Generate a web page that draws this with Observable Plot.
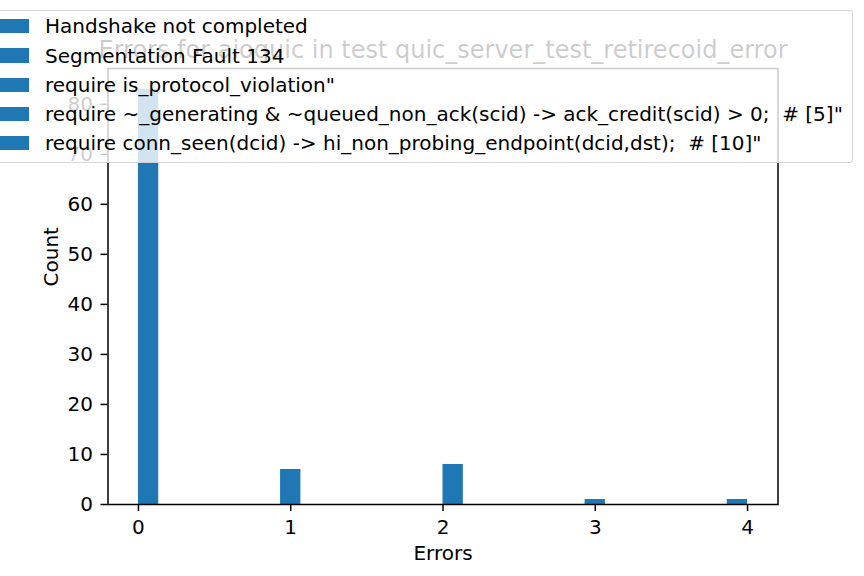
<!DOCTYPE html>
<html>
<head>
<meta charset="utf-8">
<script src="https://cdn.jsdelivr.net/npm/d3@7"></script>
<script src="https://cdn.jsdelivr.net/npm/@observablehq/plot@0.6"></script>
<style>
  html, body { margin: 0; padding: 0; background: white; }
  #wrap { position: relative; width: 864px; height: 576px; overflow: hidden; font-family: "DejaVu Sans", sans-serif; }
  #legend { position: absolute; left: -16px; top: 10px; width: 867px; height: 151px;
            background: rgba(255,255,255,0.8); border: 1px solid rgba(204,204,204,0.8); border-radius: 4px; }
  .sw { position: absolute; left: 7px; width: 37px; height: 14.3px; background: #1f77b4; }
  .lt { position: absolute; left: 60px; font-size: 20px; line-height: 22px; white-space: pre; color: #000; }
</style>
</head>
<body>
<div id="wrap"></div>
<script>
// ---- data ----
const titleText = "Errors for aioquic in test quic_server_test_retirecoid_error";
const errorValues = [0, 1, 2, 3, 4];
const counts = [83, 7, 8, 1, 1];
const xTicks = [0, 1, 2, 3, 4];
const yTicks = [0, 10, 20, 30, 40, 50, 60, 70, 80];
const legendLabels = [
  "Handshake not completed",
  "Segmentation Fault 134",
  "require is_protocol_violation\"",
  "require ~_generating & ~queued_non_ack(scid) -> ack_credit(scid) > 0;  # [5]\"",
  "require conn_seen(dcid) -> hi_non_probing_endpoint(dcid,dst);  # [10]\""
];
const binCount = 30;
const binRange = [0, 4];

// histogram bins (matplotlib-style, 30 bins over [0,4])
const binW = (binRange[1] - binRange[0]) / binCount;
const bars = errorValues.map((v, i) => {
  const b = Math.min(binCount - 1, Math.floor((v - binRange[0]) * binCount / (binRange[1] - binRange[0])));
  return { x1: binRange[0] + b * binW, x2: binRange[0] + (b + 1) * binW, y: counts[i] };
});

const yMax = d3.max(counts) * 1.05;
const ink = "#000";
const fs = 20;

const chart = Plot.plot({
  width: 864,
  height: 576,
  marginLeft: 107.5,
  marginRight: 86.5,
  marginTop: 68,
  marginBottom: 72,
  style: { fontFamily: "DejaVu Sans", fontSize: fs + "px", background: "white", color: ink, overflow: "visible" },
  x: { domain: [-0.2, 4.2] },
  y: { domain: [0, yMax] },
  marks: [
    Plot.rect(bars, { x1: "x1", x2: "x2", y1: 0, y2: "y", fill: "#1f77b4" }),
    Plot.axisX({ ticks: xTicks, tickSize: 7, tickPadding: 8, tickFormat: d3.format("d"), label: null, strokeWidth: 1.5, fontSize: fs }),
    Plot.axisY({ ticks: yTicks, tickSize: 7, tickPadding: 8, tickFormat: d3.format("d"), label: null, strokeWidth: 1.5, fontSize: fs }),
    Plot.frame({ stroke: ink, strokeWidth: 1.5 }),
    Plot.text([titleText], { frameAnchor: "top", dy: -11, lineAnchor: "bottom", fontSize: 24, fill: ink }),
    Plot.text(["Errors"], { frameAnchor: "bottom", dy: 55, lineAnchor: "bottom", fontSize: fs, fill: ink }),
    Plot.text(["Count"], { frameAnchor: "left", dx: -50.5, rotate: -90, lineAnchor: "bottom", fontSize: fs, fill: ink })
  ]
});

const wrap = document.getElementById("wrap");
wrap.appendChild(chart);

// legend overlay (matplotlib-style, semi-transparent box)
const rowGap = 29.25;
const legend = document.createElement("div");
legend.id = "legend";
legendLabels.forEach((lab, i) => {
  const sw = document.createElement("div");
  sw.className = "sw";
  sw.style.top = (19 + i * rowGap - 11) + "px";
  legend.appendChild(sw);
  const t = document.createElement("div");
  t.className = "lt";
  t.style.top = (15.4 + i * rowGap - 11) + "px";
  t.textContent = lab;
  legend.appendChild(t);
});
wrap.appendChild(legend);
</script>
</body>
</html>
